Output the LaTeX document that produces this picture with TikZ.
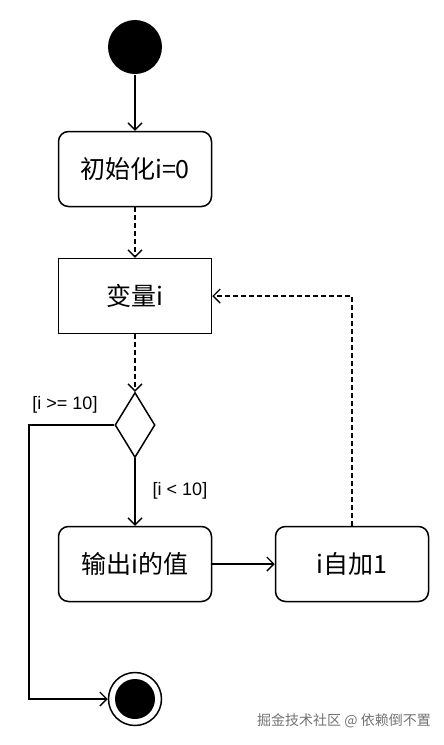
\documentclass[tikz,border=0pt]{standalone}
\usepackage{fontspec}
\setmainfont{Liberation Sans}
\newfontfamily\cjk{Noto Sans CJK SC}
\usetikzlibrary{shapes.geometric,arrows.meta}
\begin{document}
\begin{tikzpicture}[x=1pt,y=-1pt,line width=1.5pt,
  arr/.style={-{Straight Barb[length=7pt,width=14pt,line width=1.4pt]}},
  dsh/.style={dash pattern=on 4.5pt off 3.5pt},
  act/.style={draw,minimum width=153pt,minimum height=75pt,inner sep=0pt,font=\cjk\fontsize{25}{30}\selectfont},
  rnd/.style={rounded corners=10pt},
  lbl/.style={font=\fontsize{18}{20}\selectfont,inner sep=0pt},
  decision/.style={draw,diamond,minimum width=40pt,minimum height=65pt,inner sep=0pt}]
\useasboundingbox (0,0) rectangle (444,745);
\node[circle,fill,minimum size=54pt,inner sep=0pt] (start) at (135,47) {};
\node[act,rnd] (init) at (135,169) {初始化i=0};
\node[act] (var) at (135,296) {变量i};
\node[decision] (dec) at (135,425) {};
\node[act,rnd] (out) at (135,564) {输出i的值};
\node[act,rnd] (inc) at (352,564) {i自加1};
\node[circle,draw,minimum size=53pt,inner sep=0pt] (end) at (135,699) {};
\node[circle,fill,minimum size=40pt,inner sep=0pt] (endin) at (end) {};
\coordinate (corner) at (29,425);
\draw[arr] (start) -- (init);
\draw[arr,dsh] (init) -- (var);
\draw[arr,dsh] (var) -- (dec);
\draw[arr] (dec) -- (out);
\draw[arr] (out) -- (inc);
\draw[arr,dsh] (inc.north) |- (var.east);
\draw[arr] (dec.west) -- (corner) |- (end.west);
\node[lbl] (ge) at (65,405) {[i >= 10]};
\node[lbl] (lt) at (180,491) {[i < 10]};
\node[font=\cjk\fontsize{14}{16}\selectfont,text=black!55,inner sep=0pt] (wm) at (344,721) {掘金技术社区 @ 依赖倒不置};
\end{tikzpicture}
\end{document}
